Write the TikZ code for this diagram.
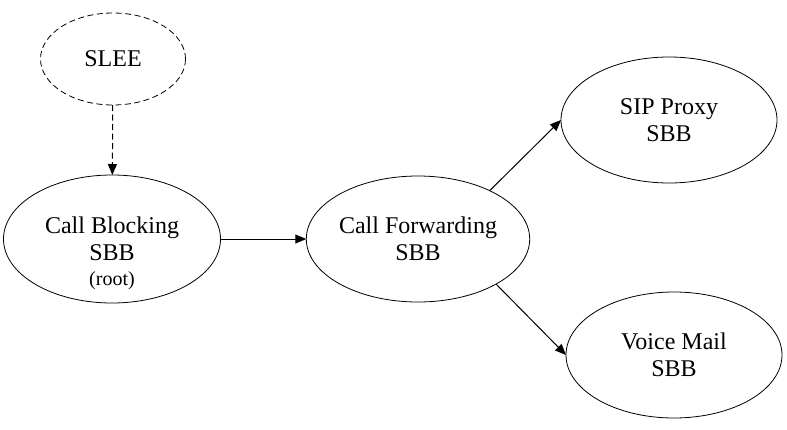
\documentclass[tikz,border=0pt]{standalone}
\usepackage{fontspec}
\setmainfont{Liberation Serif}
\usetikzlibrary{arrows.meta,shapes.geometric}
\begin{document}
\begin{tikzpicture}[x=1pt,y=-1pt,
  sbb/.style={ellipse,draw,line width=0.8pt,inner sep=0pt,outer sep=0pt,
    minimum width=216pt,minimum height=126pt,align=center,
    font=\fontsize{24}{27}\selectfont},
  txt/.style={align=center,inner sep=0pt,font=\fontsize{24}{27}\selectfont},
  conn/.style={line width=1pt,-{Triangle[length=11pt,width=9pt]}}]
\useasboundingbox (0,0) rectangle (787,429);
\node[sbb,dashed,dash pattern=on 6pt off 3.5pt,minimum width=145pt,minimum height=92pt] (slee) at (113,59) {SLEE};
\node[sbb,minimum width=217pt,minimum height=128pt] (cb) at (112,239) {};
\node[txt] (cbt) at (112,253) {Call Blocking\\SBB\\[-2pt]{\fontsize{20}{22}\selectfont (root)}};
\node[sbb] (cf) at (418,239) {Call Forwarding\\SBB};
\node[sbb] (sip) at (669,120) {SIP Proxy\\SBB};
\node[sbb] (vm) at (674,355) {Voice Mail\\SBB};
\draw[conn,dash pattern=on 6pt off 3.5pt] (slee) -- (cb);
\draw[conn] (cb.east) -- (cf.west);
\draw[conn] (cf.34) -- (sip.west);
\draw[conn] (cf.-30) -- (vm.west);
\end{tikzpicture}
\end{document}
